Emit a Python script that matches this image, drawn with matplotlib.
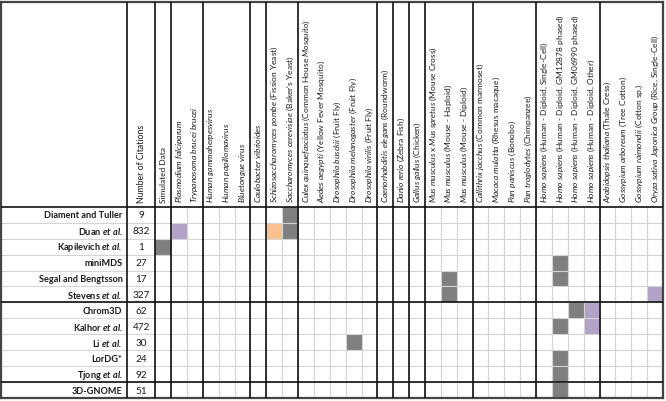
import matplotlib.pyplot as plt
import numpy as np
from matplotlib.colors import ListedColormap

FONT = 'Lato'
plt.rcParams['font.family'] = [FONT, 'DejaVu Sans']
plt.rcParams['mathtext.fontset'] = 'custom'
plt.rcParams['mathtext.rm'] = FONT
plt.rcParams['mathtext.it'] = FONT + ':italic'
plt.rcParams['mathtext.bf'] = FONT + ':bold'
plt.rcParams['mathtext.bfit'] = FONT + ':bold:italic'

# rows (methods) and their citation counts
methods = ["Diament and Tuller", "Duan", "Kapilevich", "miniMDS", "Segal and Bengtsson",
           "Stevens", "Chrom3D", "Kalhor", "Li", "LorDG*", "Tjong", "3D-GNOME"]
et_al = [False, True, True, False, False, True, False, True, True, False, True, False]
citations = [9, 832, 1, 27, 17, 327, 62, 472, 30, 24, 92, 51]
method_groups = [6, 5, 1]

# columns (data sets / organisms)
columns = [
    "Simulated Data",
    r"$\mathit{Plasmodium\ falciparum}$",
    r"$\mathit{Trypanosoma\ brucei\ brucei}$",
    r"$\mathit{Human\ gammaherpesvirus}$",
    r"$\mathit{Human\ papillomavirus}$",
    r"$\mathit{Bluetongue\ virus}$",
    r"$\mathit{Caulobacter\ vibrioides}$",
    r"$\mathit{Schizosaccharomyces\ pombe}$ (Fission Yeast)",
    r"$\mathit{Saccharomyces\ cerevisiae}$ (Baker's Yeast)",
    r"$\mathit{Culex\ quinquefasciatus}$ (Common House $\mathit{Mosquito}$)",
    r"$\mathit{Aedes\ aegypti}$ (Yellow Fever Mosquito)",
    r"$\mathit{Drosophila\ busckii}$ (Fruit Fly)",
    r"$\mathit{Drosophila\ melanogaster}$ (Fruit Fly)",
    r"$\mathit{Drosophila\ virilis}$ (Fruit Fly)",
    r"$\mathit{Caenorhabditis\ elegans}$ (Roundworm)",
    r"$\mathit{Danio\ rerio}$ (Zebra Fish)",
    r"$\mathit{Gallus\ gallus}$ (Chicken)",
    r"$\mathit{Mus\ musculus}$ x $\mathit{Mus\ spretus}$ (Mouse Cross)",
    r"$\mathit{Mus\ musculus}$ (Mouse - Haploid)",
    r"$\mathit{Mus\ musculus}$ (Mouse - Diploid)",
    r"$\mathit{Callithrix\ jacchus}$ (Common marmoset)",
    r"$\mathit{Macaca\ mulatta}$ (Rhesus macaque)",
    r"$\mathit{Pan\ paniscus}$ (Bonobo)",
    r"$\mathit{Pan\ troglodytes}$ (Chimpanzee)",
    r"$\mathit{Homo\ sapiens}$ (Human - Diploid, Single-Cell)",
    r"$\mathit{Homo\ sapiens}$ (Human - Diploid, GM12878 phased)",
    r"$\mathit{Homo\ sapiens}$ (Human - Diploid, GM06990 phased)",
    r"$\mathit{Homo\ sapiens}$ (Human - Diploid, Other)",
    r"$\mathit{Arabidopsis\ thaliana}$ (Thale Cress)",
    r"$\mathit{Gossypium\ arboreum}$ (Tree Cotton)",
    r"$\mathit{Gossypium\ raimondii}$ (Cotton sp.)",
    r"$\mathit{Oryza\ sativa\ Japonica\ Group}$ (Rice, Single-Cell)",
]
column_groups = [1, 2, 3, 1, 2, 5, 1, 1, 1, 3, 4, 4, 4]

# marked cells as (row, column)
gray_cells = [(0, 8), (1, 8), (2, 0), (3, 25), (4, 18), (4, 25), (5, 18),
              (6, 26), (7, 25), (8, 12), (9, 25), (10, 25), (11, 25)]
purple_cells = [(1, 1), (5, 31), (6, 27), (7, 27)]
orange_cells = [(1, 7)]

GRAY, PURPLE, ORANGE = '#7f7f7f', '#b3a2c8', '#fac08f'
W_NAME, W_CIT, HEADER = 7.95, 1.77, 12.85

n_rows, n_cols = len(methods), len(columns)
grid = np.zeros((n_rows, n_cols))
for code, cells in enumerate([gray_cells, purple_cells, orange_cells], start=1):
    for r, c in cells:
        grid[r, c] = code

fig = plt.figure(figsize=(6.66, 4.02), dpi=100)
ax = fig.add_axes([1 / 666, 3 / 402, 662 / 666, 396 / 402])
x0 = -(W_NAME + W_CIT)
ax.set_xlim(x0, n_cols)
ax.set_ylim(n_rows, -HEADER)
ax.set_xticks([])
ax.set_yticks([])
for s in ax.spines.values():
    s.set_color('#444444')
    s.set_linewidth(1.6)

ax.pcolormesh(np.arange(n_cols + 1), np.arange(n_rows + 1),
              np.ma.masked_equal(grid, 0),
              cmap=ListedColormap([GRAY, PURPLE, ORANGE]), vmin=0.5, vmax=3.5, zorder=1)

# thin cell grid
ax.hlines(np.arange(1, n_rows), x0, n_cols, color='#d4d4d4', lw=0.8, zorder=2)
ax.vlines(np.arange(1, n_cols), 0, n_rows, color='#d4d4d4', lw=0.8, zorder=2)

# thick group separators
col_bounds = np.concatenate([[-W_CIT, 0], np.cumsum(column_groups)[:-1]])
ax.vlines(col_bounds, -HEADER, n_rows, color='#111111', lw=1.2, zorder=3)
row_bounds = np.concatenate([[0], np.cumsum(method_groups)[:-1]])
ax.hlines(row_bounds, x0, n_cols, color='#111111', lw=1.2, zorder=3)

fs_head = 6.0
fs = 6.6
tc = '#1a1a1a'
for i, lab in enumerate(columns):
    ax.text(i + 0.5, -0.3, lab, rotation=90, ha='center', va='bottom',
            fontsize=fs_head, color=tc)
ax.text(-W_CIT / 2, -0.3, "Number of Citations", rotation=90, ha='center',
        va='bottom', fontsize=fs_head + 0.3, color=tc)

for i, (name, etal, cit) in enumerate(zip(methods, et_al, citations)):
    label = name + (r" $\mathbfit{et\ al.}$" if etal else "")
    ax.text(-W_CIT - 0.3, i + 0.5, label, ha='right', va='center',
            fontsize=fs, fontweight='bold', color=tc)
    ax.text(-W_CIT / 2, i + 0.5, str(cit), ha='center', va='center',
            fontsize=fs + 0.6, color=tc)

fig.savefig('out.png', dpi=100)
